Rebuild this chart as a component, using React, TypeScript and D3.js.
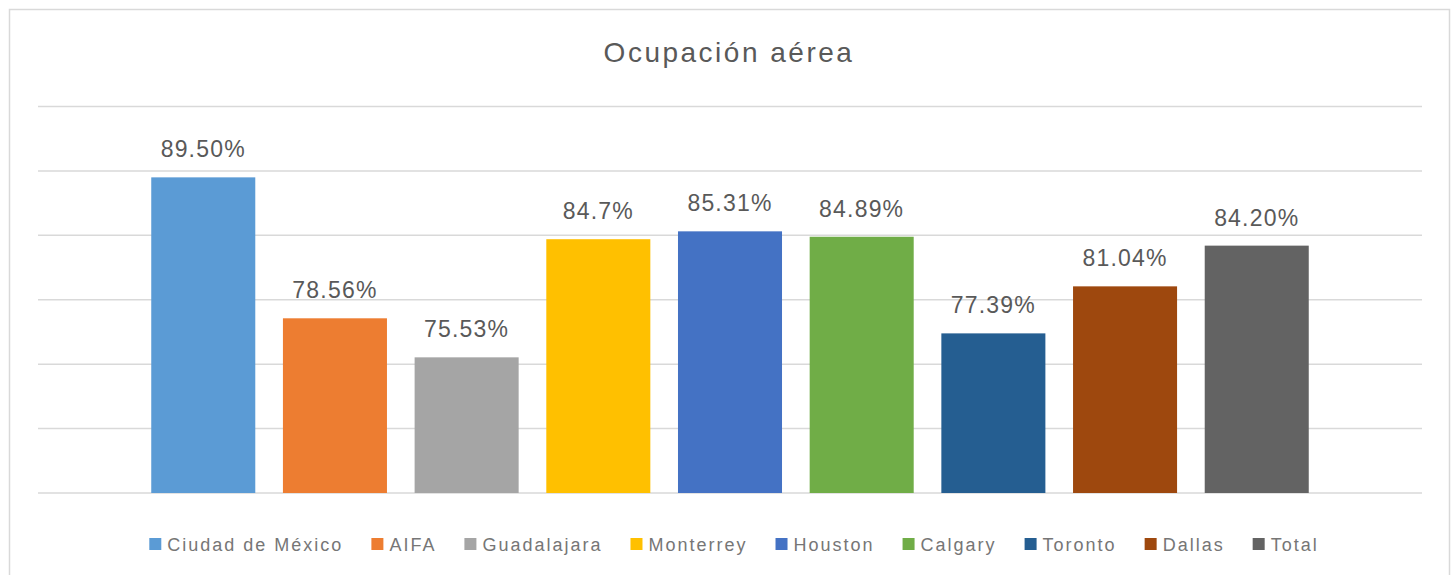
import React, { useEffect, useRef } from 'react';
import * as d3 from 'd3';

const categories = ['Ciudad de México', 'AIFA', 'Guadalajara', 'Monterrey', 'Houston', 'Calgary', 'Toronto', 'Dallas', 'Total'];
const values = [89.5, 78.56, 75.53, 84.7, 85.31, 84.89, 77.39, 81.04, 84.2];
const valueLabels = ['89.50%', '78.56%', '75.53%', '84.7%', '85.31%', '84.89%', '77.39%', '81.04%', '84.20%'];
const colors = ['#5B9BD5', '#ED7D31', '#A5A5A5', '#FFC000', '#4472C4', '#70AD47', '#255E91', '#9E480E', '#636363'];
const yTicks = [65, 70, 75, 80, 85, 90, 95];

const App = () => {
    const svgRef = useRef<SVGSVGElement>(null);

    useEffect(() => {
        document.body.style.margin = '0';
        const width = 1453;
        const height = 575;
        const font = '"Liberation Sans", Arial, sans-serif';

        const svg = d3.select(svgRef.current)
            .attr('width', width)
            .attr('height', height);
        svg.selectAll('*').remove();

        // рамка
        svg.append('rect')
            .attr('x', 9.5).attr('y', 9.5)
            .attr('width', 1440).attr('height', 600)
            .attr('fill', '#fff')
            .attr('stroke', '#d9d9d9')
            .attr('stroke-width', 1.5);

        svg.append('text')
            .attr('x', 729)
            .attr('y', 62)
            .attr('text-anchor', 'middle')
            .style('font-family', font)
            .style('font-size', '28px')
            .style('letter-spacing', '2.5px')
            .style('fill', '#595959')
            .text('Ocupación aérea');

        const left = 38;
        const right = 1422;

        const x = d3.scaleBand<string>()
            .domain(categories)
            .range([left, right])
            .paddingInner(0.21)
            .paddingOuter(0.86);

        const y = d3.scaleLinear()
            .domain([65, 95])
            .range([493, 106.5]);

        svg.append('g')
            .selectAll('line')
            .data(yTicks)
            .enter()
            .append('line')
            .attr('x1', left)
            .attr('x2', right)
            .attr('y1', d => y(d))
            .attr('y2', d => y(d))
            .attr('stroke', '#d9d9d9')
            .attr('stroke-width', 1.5);

        svg.append('g')
            .selectAll('rect')
            .data(values)
            .enter()
            .append('rect')
            .attr('x', (d, i) => x(categories[i]) as number)
            .attr('y', d => y(d))
            .attr('width', x.bandwidth())
            .attr('height', d => y(65) - y(d))
            .attr('fill', (d, i) => colors[i]);

        svg.append('g')
            .selectAll('text')
            .data(values)
            .enter()
            .append('text')
            .attr('x', (d, i) => (x(categories[i]) as number) + x.bandwidth() / 2)
            .attr('y', d => y(d) - 20)
            .attr('text-anchor', 'middle')
            .style('font-family', font)
            .style('font-size', '23px')
            .style('letter-spacing', '1.2px')
            .style('fill', '#595959')
            .text((d, i) => valueLabels[i]);

        // легенда
        const legend = svg.append('g');
        const items = legend.selectAll('g')
            .data(categories)
            .enter()
            .append('g');

        items.append('rect')
            .attr('y', 538)
            .attr('width', 12)
            .attr('height', 12)
            .attr('fill', (d, i) => colors[i]);

        items.append('text')
            .attr('x', 18)
            .attr('y', 551)
            .style('font-family', font)
            .style('font-size', '18px')
            .style('letter-spacing', '2px')
            .style('fill', '#767676')
            .text(d => d);

        const widths: number[] = [];
        items.select('text').each(function () {
            widths.push(18 + (this as SVGTextElement).getComputedTextLength());
        });
        const gap = 28;
        const total = d3.sum(widths) + gap * (widths.length - 1);
        let cx = 734 - total / 2;
        items.attr('transform', (d, i) => {
            const t = `translate(${cx},0)`;
            cx += widths[i] + gap;
            return t;
        });
    }, []);

    return <svg ref={svgRef}></svg>;
};

export default App;
